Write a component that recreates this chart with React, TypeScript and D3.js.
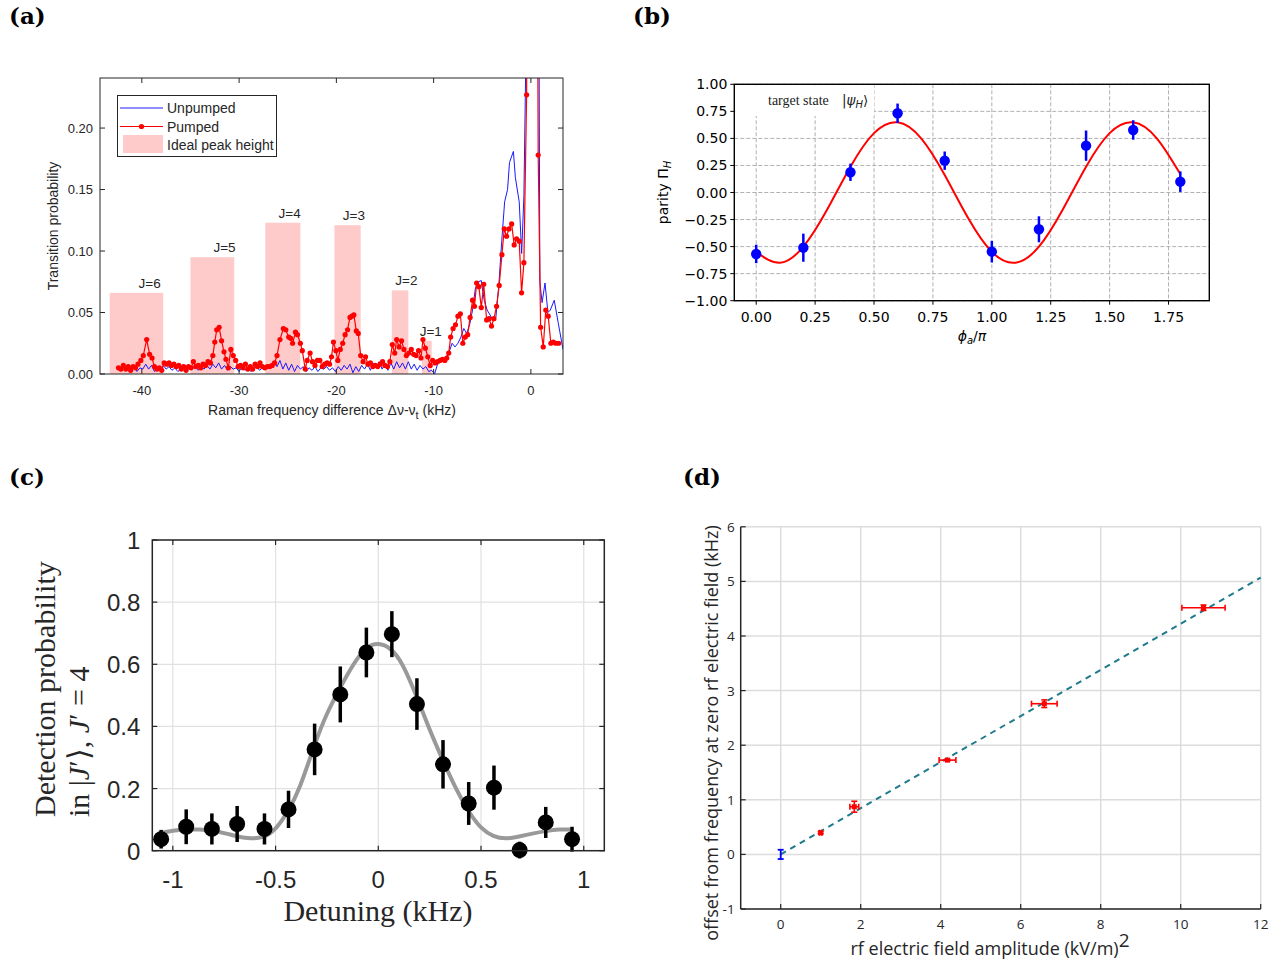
import React from 'react';
import * as d3 from 'd3';

// ---------------- Panel (a) data ----------------
const aPumped: [number, number][] = [
  [-42.4,0.005],[-42.15,0.004],[-41.9,0.007],[-41.65,0.004],[-41.4,0.006],[-41.15,0.003],[-40.9,0.006],[-40.65,0.005],
  [-40.4,0.008],[-40.1,0.011],[-39.85,0.015],[-39.5,0.028],[-39.2,0.016],[-38.95,0.013],[-38.7,0.006],[-38.45,0.004],
  [-38.2,0.005],[-37.95,0.003],[-37.7,0.009],[-37.45,0.008],[-37.2,0.009],[-36.95,0.007],[-36.7,0.008],[-36.45,0.006],
  [-36.2,0.007],[-35.95,0.004],[-35.7,0.006],[-35.45,0.003],[-35.2,0.006],[-34.95,0.005],[-34.7,0.010],[-34.45,0.006],
  [-34.2,0.007],[-33.95,0.005],[-33.7,0.008],[-33.45,0.007],[-33.2,0.010],[-32.95,0.009],[-32.7,0.015],[-32.5,0.026],
  [-32.3,0.036],[-32.05,0.038],[-31.8,0.027],[-31.55,0.018],[-31.35,0.012],[-31.1,0.005],[-30.85,0.020],[-30.6,0.015],
  [-30.35,0.011],[-30.1,0.006],[-29.85,0.007],[-29.6,0.005],[-29.35,0.008],[-29.1,0.004],[-28.85,0.006],[-28.6,0.004],
  [-28.35,0.008],[-28.1,0.006],[-27.85,0.009],[-27.6,0.006],[-27.35,0.005],[-27.1,0.006],[-26.85,0.006],[-26.6,0.007],
  [-26.35,0.009],[-26.1,0.015],[-25.8,0.028],[-25.45,0.037],[-25.2,0.036],[-24.9,0.030],[-24.7,0.029],[-24.5,0.025],
  [-24.2,0.034],[-24.0,0.032],[-23.7,0.025],[-23.5,0.019],[-23.2,0.004],[-23.0,0.011],[-22.7,0.017],[-22.45,0.010],
  [-22.2,0.007],[-21.95,0.011],[-21.7,0.011],[-21.45,0.006],[-21.2,0.008],[-20.95,0.009],[-20.7,0.008],[-20.5,0.014],
  [-20.3,0.026],[-20.05,0.019],[-19.85,0.011],[-19.6,0.020],[-19.35,0.025],[-19.1,0.032],[-18.85,0.036],[-18.6,0.046],
  [-18.4,0.047],[-18.2,0.048],[-17.95,0.035],[-17.75,0.033],[-17.5,0.015],[-17.25,0.010],[-17.0,0.014],[-16.75,0.008],
  [-16.5,0.009],[-16.25,0.006],[-16.0,0.007],[-15.75,0.006],[-15.5,0.008],[-15.25,0.010],[-15.0,0.007],[-14.75,0.006],
  [-14.5,0.010],[-14.25,0.024],[-14.0,0.017],[-13.8,0.028],[-13.55,0.022],[-13.3,0.027],[-13.05,0.020],[-12.8,0.015],
  [-12.55,0.017],[-12.3,0.020],[-12.05,0.016],[-11.8,0.015],[-11.55,0.019],[-11.3,0.013],[-11.1,0.028],[-10.85,0.021],
  [-10.6,0.014],[-10.35,0.007],[-10.1,0.011],[-9.85,0.009],[-9.6,0.010],[-9.35,0.011],[-9.1,0.012],[-8.85,0.011],
  [-8.65,0.013],[-8.45,0.017],[-8.25,0.030],[-8.0,0.037],[-7.75,0.040],[-7.5,0.047],[-7.25,0.049],[-7.0,0.025],
  [-6.75,0.030],[-6.5,0.032],[-6.25,0.046],[-6.0,0.060],[-5.8,0.055],[-5.58,0.074],[-5.35,0.071],[-5.1,0.054],
  [-4.85,0.073],[-4.55,0.044],[-4.3,0.045],[-4.05,0.039],[-3.8,0.045],[-3.53,0.055],[-3.26,0.072],[-2.98,0.097],
  [-2.74,0.118],[-2.5,0.112],[-2.25,0.118],[-1.98,0.122],[-1.72,0.105],[-1.47,0.110],[-1.2,0.108],[-0.96,0.066],
  [-0.72,0.0905],[-0.44,0.227],[-0.15,0.9],[0.15,1.0],[0.45,0.8],[0.75,0.178],[1.0,0.038],[1.27,0.022],
  [1.53,0.052],[1.78,0.047],[2.05,0.025],[2.3,0.026],[2.55,0.025],[2.85,0.025],
];
const aUnpumped: [number, number][] = [
  [-41.7,0.003],[-41.4,0.008],[-41.1,0.004],[-40.8,0.006],[-40.5,0.002],[-40.2,0.005],[-39.9,0.004],[-39.6,0.008],
  [-39.3,0.004],[-39.0,0.007],[-38.7,0.002],[-38.4,0.005],[-38.1,0.003],[-37.8,0.007],[-37.5,0.004],[-37.2,0.006],
  [-36.9,0.003],[-36.6,0.005],[-36.3,0.002],[-36.0,0.004],[-35.7,0.006],[-35.4,0.003],[-35.1,0.005],[-34.8,0.004],
  [-34.5,0.007],[-34.2,0.003],[-33.9,0.006],[-33.6,0.004],[-33.3,0.007],[-33.0,0.004],[-32.7,0.008],[-32.4,0.005],
  [-32.1,0.009],[-31.8,0.004],[-31.5,0.007],[-31.2,0.003],[-30.9,0.006],[-30.6,0.004],[-30.3,0.005],[-30.0,0.002],
  [-29.7,0.006],[-29.4,0.003],[-29.1,0.005],[-28.8,0.002],[-28.5,0.004],[-28.2,0.006],[-27.9,0.003],[-27.6,0.005],
  [-27.3,0.004],[-27.0,0.007],[-26.7,0.005],[-26.4,0.010],[-26.1,0.006],[-25.8,0.011],[-25.5,0.004],[-25.2,0.009],
  [-24.9,0.003],[-24.6,0.008],[-24.3,0.002],[-24.0,0.007],[-23.7,0.004],[-23.4,0.006],[-23.1,0.002],[-22.8,0.005],
  [-22.5,0.003],[-22.2,0.006],[-21.9,0.002],[-21.6,0.005],[-21.3,0.004],[-21.0,0.006],[-20.7,0.003],[-20.4,0.005],
  [-20.1,0.002],[-19.8,0.006],[-19.5,0.003],[-19.2,0.007],[-18.9,0.004],[-18.6,0.008],[-18.3,0.001],[-18.0,0.006],
  [-17.7,0.002],[-17.4,0.007],[-17.1,0.004],[-16.8,0.008],[-16.5,0.003],[-16.2,0.009],[-15.9,0.005],[-15.6,0.010],
  [-15.3,0.004],[-15.0,0.008],[-14.7,0.003],[-14.4,0.009],[-14.1,0.004],[-13.8,0.010],[-13.5,0.005],[-13.2,0.009],
  [-12.9,0.004],[-12.6,0.010],[-12.3,0.004],[-12.0,0.008],[-11.7,0.003],[-11.4,0.007],[-11.1,0.004],[-10.8,0.006],
  [-10.5,0.002],[-10.2,0.003],[-9.9,0.0],[-9.6,0.008],[-9.3,0.011],[-9.0,0.010],[-8.7,0.014],[-8.4,0.018],
  [-8.1,0.025],[-7.8,0.022],[-7.5,0.025],[-7.2,0.030],[-6.9,0.037],[-6.6,0.033],[-6.3,0.040],[-6.0,0.052],
  [-5.7,0.070],[-5.4,0.075],[-5.1,0.076],[-4.8,0.060],[-4.5,0.052],[-4.2,0.048],[-3.9,0.044],[-3.6,0.046],
  [-3.3,0.072],[-3.0,0.108],[-2.7,0.140],[-2.4,0.150],[-2.2,0.172],[-1.8,0.181],[-1.6,0.160],[-1.2,0.140],
  [-0.95,0.098],[-0.72,0.145],[-0.44,0.30],[-0.2,0.9],[0.3,1.0],[0.7,0.6],[0.92,0.075],[1.15,0.058],
  [1.45,0.074],[1.75,0.050],[2.0,0.052],[2.4,0.060],[2.8,0.042],[3.3,0.020],
];
const aBarLabels = ['J=6', 'J=5', 'J=4', 'J=3', 'J=2', 'J=1'];
const aBarStart = [-43.3, -35.0, -27.3, -20.2, -14.3, -11.2];
const aBarEnd = [-37.8, -30.5, -23.7, -17.5, -12.6, -10.2];
const aBarHeight = [0.066, 0.095, 0.123, 0.121, 0.068, 0.027];
const aLabelX = [-39.2, -31.5, -24.8, -18.2, -12.8, -10.3];
const aXTicks = [-40, -30, -20, -10, 0];
const aYTicks = [0, 0.05, 0.1, 0.15, 0.2];

// ---------------- Panel (b) data ----------------
const bX = [0.0, 0.2, 0.4, 0.6, 0.8, 1.0, 1.2, 1.4, 1.6, 1.8];
const bY = [-0.568, -0.51, 0.187, 0.732, 0.294, -0.547, -0.34, 0.433, 0.578, 0.10];
const bErr = [0.085, 0.13, 0.08, 0.09, 0.085, 0.10, 0.12, 0.14, 0.09, 0.095];
const bFitX = [0, 0.1, 0.2, 0.3, 0.4, 0.5, 0.6, 0.7, 0.8, 0.9, 1.0, 1.1, 1.2, 1.3, 1.4, 1.5, 1.6, 1.7, 1.8];
const bFitY = [-0.55, -0.649, -0.501, -0.162, 0.239, 0.549, 0.649, 0.501, 0.162, -0.239, -0.549, -0.649, -0.501, -0.162, 0.239, 0.549, 0.649, 0.501, 0.17];
const bXTicks = [0, 0.25, 0.5, 0.75, 1.0, 1.25, 1.5, 1.75];
const bYTicks = [-1, -0.75, -0.5, -0.25, 0, 0.25, 0.5, 0.75, 1];

// ---------------- Panel (c) data ----------------
const cX = [-1.057, -0.935, -0.81, -0.687, -0.554, -0.437, -0.31, -0.185, -0.058, 0.066, 0.188, 0.315, 0.44, 0.563, 0.688, 0.815, 0.943];
const cY = [0.037, 0.077, 0.07, 0.086, 0.07, 0.133, 0.326, 0.503, 0.638, 0.697, 0.472, 0.278, 0.152, 0.203, 0.002, 0.091, 0.037];
const cErr = [0.03, 0.056, 0.05, 0.058, 0.05, 0.06, 0.083, 0.09, 0.08, 0.074, 0.083, 0.078, 0.069, 0.071, 0.027, 0.05, 0.04];
const cFitX = [-1.07, -1.0, -0.935, -0.87, -0.81, -0.74, -0.68, -0.62, -0.56, -0.5, -0.44, -0.38, -0.31, -0.25, -0.185, -0.12, -0.06, 0.0, 0.06, 0.12, 0.19, 0.25, 0.315, 0.38, 0.44, 0.5, 0.56, 0.62, 0.68, 0.75, 0.815, 0.88, 0.94];
const cFitY = [0.055, 0.064, 0.068, 0.068, 0.064, 0.055, 0.045, 0.040, 0.045, 0.072, 0.128, 0.21, 0.34, 0.44, 0.525, 0.6, 0.65, 0.665, 0.648, 0.595, 0.49, 0.39, 0.29, 0.198, 0.127, 0.075, 0.048, 0.040, 0.045, 0.055, 0.063, 0.068, 0.068];
const cXTicks = [-1, -0.5, 0, 0.5, 1];
const cXTickLabels = ['-1', '-0.5', '0', '0.5', '1'];
const cYTicks = [0, 0.2, 0.4, 0.6, 0.8, 1];
const cYTickLabels = ['0', '0.2', '0.4', '0.6', '0.8', '1'];

// ---------------- Panel (d) data ----------------
const dBlueX = [0];
const dBlueY = [0];
const dBlueYErr = [0.085];
const dRedX = [1.0, 1.84, 4.17, 6.59, 10.57];
const dRedY = [0.397, 0.873, 1.727, 2.76, 4.518];
const dRedXErr = [0.03, 0.11, 0.21, 0.32, 0.54];
const dRedYErr = [0.02, 0.1, 0.015, 0.07, 0.05];
const dFitX = [0, 12];
const dFitY = [0, 5.07];
const dXTicks = [0, 2, 4, 6, 8, 10, 12];
const dYTicks = [-1, 0, 1, 2, 3, 4, 5, 6];

const AX = '#262626';

function PanelA() {
  const L = 100, R = 563, T = 78, B = 374;
  const x = d3.scaleLinear().domain([-44.3, 3.3]).range([L, R]);
  const y = d3.scaleLinear().domain([0, 0.2407]).range([B, T]);
  const line = d3.line<[number, number]>().x(d => x(d[0])).y(d => y(d[1]));
  const font = 'Liberation Sans, Arial, sans-serif';
  return (
    <g fontFamily={font}>
      <defs>
        <clipPath id="clipA"><rect x={L} y={T} width={R - L} height={B - T} /></clipPath>
      </defs>
      <rect x={L} y={T} width={R - L} height={B - T} fill="#fff" />
      {aBarLabels.map((lab, i) => (
        <g key={lab}>
          <rect x={x(aBarStart[i])} y={y(aBarHeight[i])} width={x(aBarEnd[i]) - x(aBarStart[i])} height={B - y(aBarHeight[i])} fill="#ffcaca" />
          <text x={x(aLabelX[i])} y={y(aBarHeight[i]) - 5} fontSize={13.5} textAnchor="middle" fill={AX}>{lab}</text>
        </g>
      ))}
      <g clipPath="url(#clipA)">
        <path d={line(aUnpumped) || ''} fill="none" stroke="#1a1aff" strokeWidth={1} />
        <path d={line(aPumped) || ''} fill="none" stroke="#f00" strokeWidth={1.2} />
        {aPumped.map((d, i) => <circle key={i} cx={x(d[0])} cy={y(d[1])} r={2.6} fill="#f00" />)}
      </g>
      <rect x={L} y={T} width={R - L} height={B - T} fill="none" stroke={AX} strokeWidth={1} />
      {aXTicks.map(t => (
        <g key={t}>
          <line x1={x(t)} x2={x(t)} y1={B} y2={B - 5} stroke={AX} />
          <line x1={x(t)} x2={x(t)} y1={T} y2={T + 5} stroke={AX} />
          <text x={x(t)} y={B + 21} fontSize={13} textAnchor="middle" fill={AX}>{t}</text>
        </g>
      ))}
      {aYTicks.map(t => (
        <g key={t}>
          <line x1={L} x2={L + 5} y1={y(t)} y2={y(t)} stroke={AX} />
          <line x1={R} x2={R - 5} y1={y(t)} y2={y(t)} stroke={AX} />
          <text x={L - 7} y={y(t) + 4.5} fontSize={13} textAnchor="end" fill={AX}>{t.toFixed(2)}</text>
        </g>
      ))}
      <text transform={`translate(58,${(T + B) / 2}) rotate(-90)`} fontSize={14} textAnchor="middle" fill={AX}>Transition probability</text>
      <text x={332} y={415} fontSize={14} textAnchor="middle" fill={AX}>
        Raman frequency difference Δν-ν<tspan dy={4} fontSize={11}>t</tspan><tspan dy={-4}> (kHz)</tspan>
      </text>
      {/* legend */}
      <rect x={117.5} y={95.5} width={159} height={61} fill="#fff" stroke={AX} strokeWidth={1} />
      <line x1={120} x2={163} y1={108} y2={108} stroke="#1a1aff" strokeWidth={1} />
      <text x={167} y={113} fontSize={14} fill={AX}>Unpumped</text>
      <line x1={120} x2={163} y1={126.5} y2={126.5} stroke="#f00" strokeWidth={1.2} />
      <circle cx={141.5} cy={126.5} r={2.6} fill="#f00" />
      <text x={167} y={131.5} fontSize={14} fill={AX}>Pumped</text>
      <rect x={123} y={135} width={40} height={18} fill="#ffcaca" />
      <text x={167} y={150} fontSize={14} fill={AX}>Ideal peak height</text>
    </g>
  );
}

function PanelB() {
  const L = 734.3, R = 1209.3, T = 84.3, B = 300.7;
  const x = d3.scaleLinear().domain([-0.093, 1.923]).range([L, R]);
  const y = d3.scaleLinear().domain([-1, 1]).range([B, T]);
  const fit = d3.line<number>().x((d, i) => x(bFitX[i])).y(d => y(d)).curve(d3.curveNatural);
  const font = 'DejaVu Sans, sans-serif';
  const fmt = (v: number) => (v < 0 ? '\u2212' : '') + Math.abs(v).toFixed(2);
  return (
    <g fontFamily={font}>
      {bXTicks.map(t => <line key={'gx' + t} x1={x(t)} x2={x(t)} y1={T} y2={B} stroke="#b0b0b0" strokeWidth={1} strokeDasharray="4,2" />)}
      {bYTicks.map(t => <line key={'gy' + t} x1={L} x2={R} y1={y(t)} y2={y(t)} stroke="#b0b0b0" strokeWidth={1} strokeDasharray="4,2" />)}
      <rect x={L + 1} y={T + 1} width={873 - L} height={115 - T} fill="#fff" />
      <text x={768} y={105} fontFamily="Liberation Serif, serif" fontSize={14} fill="#222">target state</text>
      <text x={842} y={105} fontFamily="DejaVu Sans, sans-serif" fontSize={13.5} fill="#222">|<tspan fontStyle="italic">ψ</tspan><tspan fontStyle="italic" fontSize={10} dy={3}>H</tspan><tspan dy={-3}>⟩</tspan></text>
      <path d={fit(bFitY) || ''} fill="none" stroke="#f00" strokeWidth={2} />
      {bX.map((v, i) => (
        <g key={i}>
          <line x1={x(v)} x2={x(v)} y1={y(bY[i] - bErr[i])} y2={y(bY[i] + bErr[i])} stroke="#0000ff" strokeWidth={2.5} />
          <circle cx={x(v)} cy={y(bY[i])} r={5.2} fill="#0000ff" />
        </g>
      ))}
      <rect x={L} y={T} width={R - L} height={B - T} fill="none" stroke="#000" strokeWidth={1.4} />
      {bXTicks.map(t => (
        <g key={t}>
          <line x1={x(t)} x2={x(t)} y1={B} y2={B + 4} stroke="#000" />
          <text x={x(t)} y={B + 21} fontSize={14} textAnchor="middle" fill="#000">{fmt(t)}</text>
        </g>
      ))}
      {bYTicks.map(t => (
        <g key={t}>
          <line x1={L} x2={L - 4} y1={y(t)} y2={y(t)} stroke="#000" />
          <text x={L - 7} y={y(t) + 5} fontSize={14} textAnchor="end" fill="#000">{fmt(t)}</text>
        </g>
      ))}
      <text transform={`translate(668,${(T + B) / 2}) rotate(-90)`} fontSize={14} textAnchor="middle" fill="#000">
        parity Π<tspan fontStyle="italic" fontSize={10} dy={3}>H</tspan>
      </text>
      <text x={972} y={341} fontSize={14} textAnchor="middle" fill="#000">
        <tspan fontStyle="italic">ϕ</tspan><tspan fontStyle="italic" fontSize={10} dy={3}>a</tspan><tspan dy={-3}>/</tspan><tspan fontStyle="italic">π</tspan>
      </text>
    </g>
  );
}

function PanelC() {
  const L = 152.3, R = 604.3, T = 540, B = 850.7;
  const x = d3.scaleLinear().domain([-1.1, 1.1]).range([L, R]);
  const y = d3.scaleLinear().domain([0, 1]).range([B, T]);
  const fit = d3.line<number>().x((d, i) => x(cFitX[i])).y(d => y(d)).curve(d3.curveNatural);
  const sans = 'Liberation Sans, Arial, sans-serif';
  const serif = 'Liberation Serif, Times New Roman, serif';
  return (
    <g>
      {cXTicks.map(t => <line key={'gx' + t} x1={x(t)} x2={x(t)} y1={T} y2={B} stroke="#e1e1e1" strokeWidth={1.2} />)}
      {cYTicks.map(t => <line key={'gy' + t} x1={L} x2={R} y1={y(t)} y2={y(t)} stroke="#e1e1e1" strokeWidth={1.2} />)}
      <path d={fit(cFitY) || ''} fill="none" stroke="#999" strokeWidth={4} />
      {cX.map((v, i) => (
        <g key={i}>
          <line x1={x(v)} x2={x(v)} y1={y(cY[i] - cErr[i])} y2={y(cY[i] + cErr[i])} stroke="#000" strokeWidth={3.5} />
          <circle cx={x(v)} cy={y(cY[i])} r={8} fill="#000" />
        </g>
      ))}
      <rect x={L} y={T} width={R - L} height={B - T} fill="none" stroke={AX} strokeWidth={1.5} />
      {cXTicks.map((t, i) => (
        <g key={t}>
          <line x1={x(t)} x2={x(t)} y1={B} y2={B - 5} stroke={AX} strokeWidth={1.2} />
          <line x1={x(t)} x2={x(t)} y1={T} y2={T + 5} stroke={AX} strokeWidth={1.2} />
          <text x={x(t)} y={B + 37} fontFamily={sans} fontSize={24} textAnchor="middle" fill={AX}>{cXTickLabels[i]}</text>
        </g>
      ))}
      {cYTicks.map((t, i) => (
        <g key={t}>
          <line x1={L} x2={L + 5} y1={y(t)} y2={y(t)} stroke={AX} strokeWidth={1.2} />
          <line x1={R} x2={R - 5} y1={y(t)} y2={y(t)} stroke={AX} strokeWidth={1.2} />
          <text x={L - 12} y={y(t) + 9} fontFamily={sans} fontSize={24} textAnchor="end" fill={AX}>{cYTickLabels[i]}</text>
        </g>
      ))}
      <text transform="translate(55,817) rotate(-90)" fontFamily={serif} fontSize={30} textAnchor="start" fill={AX}>Detection probability</text>
      <text transform="translate(89,817) rotate(-90)" fontFamily={serif} fontSize={30} textAnchor="start" fill={AX}>
        in |<tspan fontStyle="italic">J</tspan>′⟩, <tspan fontStyle="italic">J</tspan>′ = 4
      </text>
      <text x={378} y={921} fontFamily={serif} fontSize={30} textAnchor="middle" fill={AX}>Detuning (kHz)</text>
    </g>
  );
}

function PanelD() {
  const L = 740.7, R = 1260.7, T = 526.8, B = 909;
  const x = d3.scaleLinear().domain([-1, 12]).range([L, R]);
  const y = d3.scaleLinear().domain([-1, 6]).range([B, T]);
  const font = 'Open Sans, DejaVu Sans, sans-serif';
  const fitLine = d3.line<number>().x((d, i) => x(dFitX[i])).y(d => y(d));
  const cap = 3;
  return (
    <g fontFamily={font}>
      {dXTicks.map(t => <line key={'gx' + t} x1={x(t)} x2={x(t)} y1={T} y2={B} stroke="#dcdcdc" strokeWidth={1.5} />)}
      {dYTicks.map(t => <line key={'gy' + t} x1={L} x2={R} y1={y(t)} y2={y(t)} stroke="#dcdcdc" strokeWidth={1.5} />)}
      <path d={fitLine(dFitY) || ''} fill="none" stroke="#1f7a8c" strokeWidth={2} strokeDasharray="6,5" />
      {dBlueX.map((v, i) => (
        <g key={'b' + i} stroke="#0000ff" strokeWidth={1.8}>
          <line x1={x(v)} x2={x(v)} y1={y(dBlueY[i] - dBlueYErr[i])} y2={y(dBlueY[i] + dBlueYErr[i])} />
          <line x1={x(v) - cap} x2={x(v) + cap} y1={y(dBlueY[i] - dBlueYErr[i])} y2={y(dBlueY[i] - dBlueYErr[i])} />
          <line x1={x(v) - cap} x2={x(v) + cap} y1={y(dBlueY[i] + dBlueYErr[i])} y2={y(dBlueY[i] + dBlueYErr[i])} />
        </g>
      ))}
      {dRedX.map((v, i) => {
        const cx = x(v), cy = y(dRedY[i]);
        const x0 = x(v - dRedXErr[i]), x1 = x(v + dRedXErr[i]);
        const y0 = y(dRedY[i] - dRedYErr[i]), y1 = y(dRedY[i] + dRedYErr[i]);
        return (
          <g key={'r' + i} stroke="#f00" strokeWidth={1.6}>
            <line x1={x0} x2={x1} y1={cy} y2={cy} />
            <line x1={x0} x2={x0} y1={cy - cap} y2={cy + cap} />
            <line x1={x1} x2={x1} y1={cy - cap} y2={cy + cap} />
            <line x1={cx} x2={cx} y1={y0} y2={y1} />
            <line x1={cx - cap} x2={cx + cap} y1={y0} y2={y0} />
            <line x1={cx - cap} x2={cx + cap} y1={y1} y2={y1} />
            <rect x={cx - 2.5} y={cy - 2.5} width={5} height={5} fill="#f00" stroke="none" />
          </g>
        );
      })}
      <line x1={L} x2={L} y1={T} y2={B} stroke={AX} strokeWidth={1.5} />
      <line x1={L} x2={R} y1={B} y2={B} stroke={AX} strokeWidth={1.5} />
      {dXTicks.map(t => (
        <g key={t}>
          <line x1={x(t)} x2={x(t)} y1={B} y2={B - 5} stroke={AX} strokeWidth={1.2} />
          <text x={x(t)} y={B + 20} fontSize={13.5} textAnchor="middle" fill={AX}>{t}</text>
        </g>
      ))}
      {dYTicks.map(t => (
        <g key={t}>
          <line x1={L} x2={L + 5} y1={y(t)} y2={y(t)} stroke={AX} strokeWidth={1.2} />
          <text x={L - 6} y={y(t) + 5} fontSize={13.5} textAnchor="end" fill={AX}>{t}</text>
        </g>
      ))}
      <text transform={`translate(718,733) rotate(-90)`} fontSize={18} textAnchor="middle" fill={AX}>offset from frequency at zero rf electric field (kHz)</text>
      <text x={990} y={955} fontSize={18} textAnchor="middle" fill={AX}>rf electric field amplitude (kV/m)<tspan dy={-8} fontSize={19}>2</tspan></text>
    </g>
  );
}

export default function App() {
  const lab = 'DejaVu Serif, serif';
  return (
    <div style={{ position: 'absolute', left: 0, top: 0 }}>
      <svg width={1285} height={960} viewBox="0 0 1285 960" style={{ display: 'block', background: '#fff' }}>
        <rect width={1285} height={960} fill="#fff" />
        <text x={9} y={24} fontFamily={lab} fontWeight="bold" fontSize={23}>(a)</text>
        <text x={633} y={24} fontFamily={lab} fontWeight="bold" fontSize={23}>(b)</text>
        <text x={9} y={485} fontFamily={lab} fontWeight="bold" fontSize={23}>(c)</text>
        <text x={683} y={485} fontFamily={lab} fontWeight="bold" fontSize={23}>(d)</text>
        <PanelA />
        <PanelB />
        <PanelC />
        <PanelD />
      </svg>
    </div>
  );
}
